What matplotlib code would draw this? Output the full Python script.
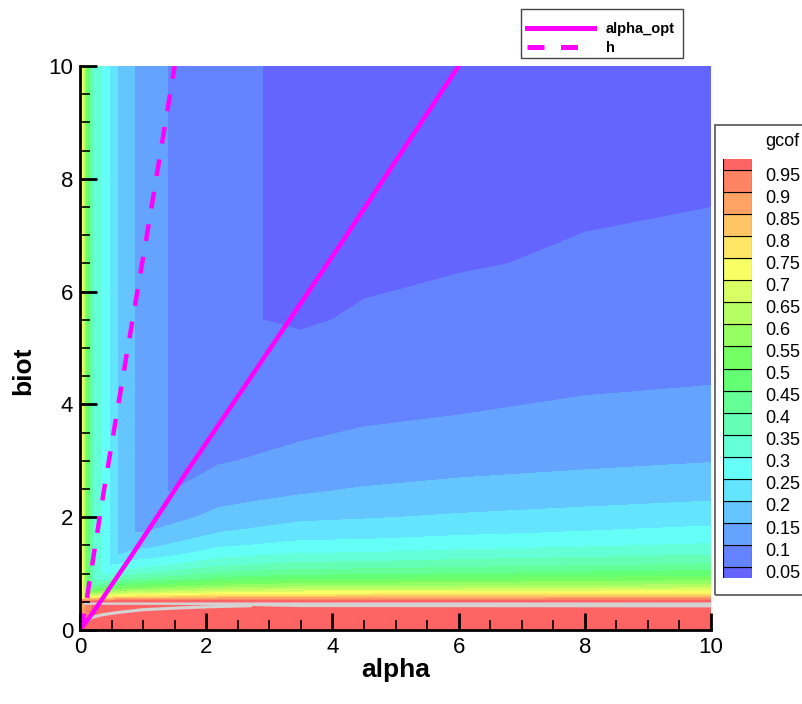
import numpy as np
import matplotlib
matplotlib.use("Agg")
import matplotlib.pyplot as plt
from matplotlib.colors import LinearSegmentedColormap
from matplotlib.lines import Line2D
from matplotlib.patches import Rectangle
from matplotlib.ticker import MultipleLocator

# gcof on a coarse (alpha, biot) grid, in thousandths
alpha_grid = [0, 0.03, 0.06, 0.1, 0.15, 0.22, 0.33, 0.46, 0.6, 0.87, 1.1, 1.38, 1.7, 2.2, 2.89, 3.5, 4.5, 6, 8, 10]
biot_grid = [0, 0.45, 0.5, 0.53, 0.56, 0.6, 0.66, 0.73, 0.8, 0.9, 1.0, 1.15, 1.33, 1.5, 1.72, 2.0, 2.42, 3.0,
             3.6, 4.3, 5.5, 6.5, 7.6, 10]
gcof_permille = [
    [970, 970, 970, 970, 970, 970, 970, 970, 970, 970, 970, 970, 970, 970, 970, 970, 970, 970, 970, 970],
    [760, 800, 850, 900, 930, 960, 970, 970, 970, 970, 970, 970, 970, 970, 970, 970, 970, 970, 970, 970],
    [995, 995, 995, 995, 995, 995, 995, 995, 995, 995, 995, 995, 995, 995, 995, 995, 995, 995, 995, 995],
    [860, 865, 870, 875, 881, 886, 892, 898, 908, 914, 916, 919, 922, 928, 930, 932, 933, 935, 937, 939],
    [746, 755, 763, 772, 781, 790, 800, 811, 830, 840, 843, 849, 854, 864, 869, 873, 874, 878, 882, 886],
    [740, 710, 648, 659, 671, 684, 699, 714, 740, 755, 759, 768, 776, 790, 797, 803, 805, 811, 816, 822],
    [740, 710, 640, 530, 545, 560, 579, 599, 633, 652, 658, 669, 680, 699, 708, 716, 718, 726, 734, 742],
    [740, 710, 640, 530, 440, 454, 475, 497, 536, 558, 565, 578, 591, 613, 625, 634, 637, 646, 656, 666],
    [740, 710, 640, 530, 440, 375, 397, 419, 460, 485, 492, 506, 520, 545, 558, 568, 571, 582, 593, 604],
    [740, 710, 640, 530, 440, 350, 314, 337, 379, 404, 411, 426, 441, 468, 482, 493, 496, 508, 520, 532],
    [740, 710, 640, 530, 440, 350, 300, 277, 318, 343, 351, 365, 381, 408, 422, 434, 437, 449, 462, 475],
    [740, 710, 640, 530, 440, 350, 300, 250, 252, 277, 283, 298, 313, 340, 355, 367, 370, 382, 395, 408],
    [740, 710, 640, 530, 440, 350, 300, 250, 200, 221, 227, 241, 255, 282, 296, 307, 310, 323, 336, 349],
    [740, 710, 640, 530, 440, 350, 300, 250, 200, 183, 189, 202, 216, 241, 254, 266, 268, 280, 293, 306],
    [740, 710, 640, 530, 440, 350, 300, 250, 200, 150, 153, 165, 178, 201, 214, 225, 230, 242, 254, 266],
    [740, 710, 640, 530, 440, 350, 300, 250, 200, 150, 125, 132, 144, 165, 177, 190, 196, 206, 218, 230],
    [740, 710, 640, 530, 440, 350, 300, 250, 200, 150, 125, 100, 109, 128, 139, 148, 158, 168, 176, 186],
    [740, 710, 640, 530, 440, 350, 300, 250, 200, 150, 125, 100, 83, 96, 105, 113, 120, 130, 140, 148],
    [740, 710, 640, 530, 440, 350, 300, 250, 200, 150, 125, 100, 83, 75, 83, 90, 100, 106, 115, 122],
    [740, 710, 640, 530, 440, 350, 300, 250, 200, 150, 125, 100, 83, 65, 66, 72, 80, 86, 96, 101],
    [740, 710, 640, 530, 440, 350, 300, 250, 200, 150, 125, 100, 83, 65, 50, 46, 54, 59, 65, 72],
    [740, 710, 640, 530, 440, 350, 300, 250, 200, 150, 125, 100, 83, 65, 50, 42, 43, 48, 53, 59],
    [740, 710, 640, 530, 440, 350, 300, 250, 200, 150, 125, 100, 83, 65, 50, 41, 35, 39, 47, 49],
    [740, 710, 640, 530, 440, 350, 300, 250, 200, 150, 125, 100, 83, 65, 50, 41, 32, 27, 31, 35],
]
cbar_levels = [0.05, 0.1, 0.15, 0.2, 0.25, 0.3, 0.35, 0.4, 0.45, 0.5, 0.55, 0.6, 0.65, 0.7, 0.75, 0.8,
               0.85, 0.9, 0.95]

# light grey band (values out of range) and the thin grey curve under it
strip_alpha = [0.05, 0.3, 1.0, 2.0, 2.6, 2.8, 3.5, 10]
strip_lo = [0.455, 0.455, 0.455, 0.45, 0.445, 0.43, 0.415, 0.41]
strip_hi = [0.497, 0.497, 0.497, 0.497, 0.497, 0.497, 0.497, 0.497]
low_alpha = [0.0, 0.05, 0.1, 0.18, 0.35, 0.6, 1.0, 1.55, 2.0, 2.7]
low_biot = [0.0, 0.07, 0.14, 0.22, 0.27, 0.31, 0.36, 0.39, 0.41, 0.43]

opt_alpha = [0.0, 0.2, 0.8, 1.7, 2.7, 4.1, 6.0]
opt_biot = [0.0, 0.3, 1.29, 2.82, 4.47, 6.79, 10.0]
h_alpha = [0.0, 0.08, 0.15, 0.39, 0.75, 1.06, 1.5]
h_biot = [0.0, 0.35, 0.85, 2.55, 4.95, 7.0, 10.0]

MAGENTA = "#ff00ff"
GREY = "#d3d3d3"

levels = [0.0] + cbar_levels + [1.0]
# tecplot-like pastel rainbow, one flat colour per band
base = LinearSegmentedColormap.from_list("tp", ["#6464ff", "#64ffff", "#64ff64", "#ffff64", "#ff6464"])
nb = len(levels) - 1
band_colors = [base(i / (nb - 1)) for i in range(nb)]

plt.rcParams["font.family"] = ["Liberation Sans", "DejaVu Sans"]
fig = plt.figure(figsize=(8.03, 7.04), dpi=100)
ax = fig.add_axes([80 / 803, 74 / 704, 631 / 803, 564 / 704])
gcof = np.array(gcof_permille) / 1000.0
ax.contourf(alpha_grid, biot_grid, gcof, levels=levels, colors=band_colors)
ax.fill_between(strip_alpha, strip_lo, strip_hi, color=GREY, lw=0)
ax.plot(low_alpha, low_biot, color=GREY, lw=2.2)

ax.plot(opt_alpha, opt_biot, color=MAGENTA, lw=3.2)
ax.plot(h_alpha, h_biot, color=MAGENTA, lw=3.2, ls=(0, (3.8, 3.6)))

ax.set_xlim(0, 10); ax.set_ylim(0, 10)
ax.xaxis.set_minor_locator(MultipleLocator(0.5)); ax.yaxis.set_minor_locator(MultipleLocator(0.5))
ax.tick_params(which="major", direction="in", length=12, width=2, labelsize=16, pad=5)
ax.tick_params(which="minor", direction="in", length=7, width=1.2)
for s in ("top", "right"):
    ax.spines[s].set_visible(False)
for s in ("left", "bottom"):
    ax.spines[s].set_linewidth(2)
ax.set_xlabel("alpha", fontsize=19, fontweight="bold")
ax.set_ylabel("biot", fontsize=19, fontweight="bold")
ax.xaxis.set_label_coords(0.5, -0.05)
ax.yaxis.set_label_coords(-0.071, 0.46)

# legend: entries without frame, box drawn separately to match the original
handles = [Line2D([], [], color=MAGENTA, lw=3.6),
           Line2D([], [], color=MAGENTA, lw=3.6, ls=(0, (3.4, 3.3)))]
fig.legend(handles, ["alpha_opt", "h"], loc="upper left", bbox_to_anchor=(521 / 803, 1 - 16 / 704),
           frameon=False, prop=dict(weight="bold", size=10.5), handlelength=4.6,
           labelspacing=0.35, borderaxespad=0)
fig.patches.append(Rectangle((521 / 803, 1 - 58 / 704), 162 / 803, 49 / 704, transform=fig.transFigure,
                             fill=False, edgecolor="#444444", lw=1.0))

# contour legend
cax = fig.add_axes([723 / 803, 126 / 704, 29 / 803, 419 / 704])
for i in range(nb):
    cax.bar(0.5, levels[i + 1] - levels[i], bottom=levels[i], width=1, color=band_colors[i],
            edgecolor="k", lw=0.8)
cax.set_xlim(0, 1); cax.set_ylim(0.025, 0.975); cax.axis("off")
for lv in cbar_levels:
    cax.text(1.45, lv - 0.014, f"{lv:g}", va="center", ha="left", fontsize=13)
fig.text(765 / 803, 1 - 141 / 704, "gcof", va="center", ha="left", fontsize=13)
fig.patches.append(Rectangle((715 / 803, 109 / 704), 0.2, 470 / 704, transform=fig.transFigure,
                             fill=False, edgecolor="#555555", lw=1.2))

fig.savefig("out.png", dpi=100)
plt.close(fig)
